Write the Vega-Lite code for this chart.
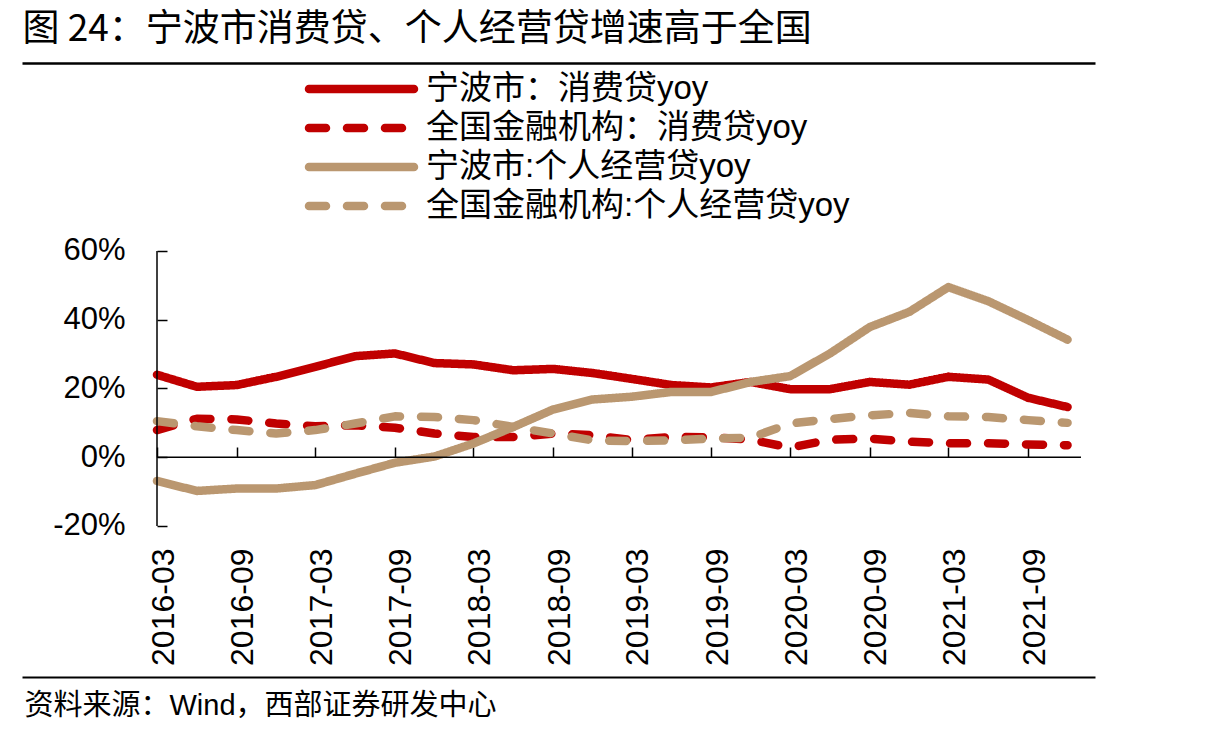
{
  "$schema": "https://vega.github.io/schema/vega-lite/v6.json",
  "width": 1073,
  "height": 614,
  "autosize": {"type": "none"},
  "padding": {"left": 22, "top": 63, "right": 120, "bottom": 59},
  "background": "white",
  "config": {"view": {"stroke": null}, "axis": {"grid": false}},
  "datasets": {
    "loans": [
      {"date": "2016-03", "series": "宁波市：消费贷yoy", "v": 24.0},
      {"date": "2016-06", "series": "宁波市：消费贷yoy", "v": 20.5},
      {"date": "2016-09", "series": "宁波市：消费贷yoy", "v": 21.0},
      {"date": "2016-12", "series": "宁波市：消费贷yoy", "v": 23.4},
      {"date": "2017-03", "series": "宁波市：消费贷yoy", "v": 26.3},
      {"date": "2017-06", "series": "宁波市：消费贷yoy", "v": 29.4},
      {"date": "2017-09", "series": "宁波市：消费贷yoy", "v": 30.2},
      {"date": "2017-12", "series": "宁波市：消费贷yoy", "v": 27.4},
      {"date": "2018-03", "series": "宁波市：消费贷yoy", "v": 27.0},
      {"date": "2018-06", "series": "宁波市：消费贷yoy", "v": 25.3},
      {"date": "2018-09", "series": "宁波市：消费贷yoy", "v": 25.7},
      {"date": "2018-12", "series": "宁波市：消费贷yoy", "v": 24.5},
      {"date": "2019-03", "series": "宁波市：消费贷yoy", "v": 22.8},
      {"date": "2019-06", "series": "宁波市：消费贷yoy", "v": 21.0},
      {"date": "2019-09", "series": "宁波市：消费贷yoy", "v": 20.3},
      {"date": "2019-12", "series": "宁波市：消费贷yoy", "v": 21.9},
      {"date": "2020-03", "series": "宁波市：消费贷yoy", "v": 19.8},
      {"date": "2020-06", "series": "宁波市：消费贷yoy", "v": 19.8},
      {"date": "2020-09", "series": "宁波市：消费贷yoy", "v": 21.9},
      {"date": "2020-12", "series": "宁波市：消费贷yoy", "v": 21.1},
      {"date": "2021-03", "series": "宁波市：消费贷yoy", "v": 23.4},
      {"date": "2021-06", "series": "宁波市：消费贷yoy", "v": 22.6},
      {"date": "2021-09", "series": "宁波市：消费贷yoy", "v": 17.3},
      {"date": "2021-12", "series": "宁波市：消费贷yoy", "v": 14.6},
      {"date": "2016-03", "series": "全国金融机构：消费贷yoy", "v": 7.9},
      {"date": "2016-06", "series": "全国金融机构：消费贷yoy", "v": 11.2},
      {"date": "2016-09", "series": "全国金融机构：消费贷yoy", "v": 11.0},
      {"date": "2016-12", "series": "全国金融机构：消费贷yoy", "v": 9.8},
      {"date": "2017-03", "series": "全国金融机构：消费贷yoy", "v": 9.0},
      {"date": "2017-06", "series": "全国金融机构：消费贷yoy", "v": 9.3},
      {"date": "2017-09", "series": "全国金融机构：消费贷yoy", "v": 8.6},
      {"date": "2017-12", "series": "全国金融机构：消费贷yoy", "v": 6.9},
      {"date": "2018-03", "series": "全国金融机构：消费贷yoy", "v": 5.9},
      {"date": "2018-06", "series": "全国金融机构：消费贷yoy", "v": 5.9},
      {"date": "2018-09", "series": "全国金融机构：消费贷yoy", "v": 6.9},
      {"date": "2018-12", "series": "全国金融机构：消费贷yoy", "v": 6.4},
      {"date": "2019-03", "series": "全国金融机构：消费贷yoy", "v": 5.0},
      {"date": "2019-06", "series": "全国金融机构：消费贷yoy", "v": 5.9},
      {"date": "2019-09", "series": "全国金融机构：消费贷yoy", "v": 5.8},
      {"date": "2019-12", "series": "全国金融机构：消费贷yoy", "v": 5.1},
      {"date": "2020-03", "series": "全国金融机构：消费贷yoy", "v": 2.8},
      {"date": "2020-06", "series": "全国金融机构：消费贷yoy", "v": 5.1},
      {"date": "2020-09", "series": "全国金融机构：消费贷yoy", "v": 5.4},
      {"date": "2020-12", "series": "全国金融机构：消费贷yoy", "v": 4.5},
      {"date": "2021-03", "series": "全国金融机构：消费贷yoy", "v": 4.1},
      {"date": "2021-06", "series": "全国金融机构：消费贷yoy", "v": 4.1},
      {"date": "2021-09", "series": "全国金融机构：消费贷yoy", "v": 3.7},
      {"date": "2021-12", "series": "全国金融机构：消费贷yoy", "v": 3.5},
      {"date": "2016-03", "series": "宁波市:个人经营贷yoy", "v": -6.9},
      {"date": "2016-06", "series": "宁波市:个人经营贷yoy", "v": -9.8},
      {"date": "2016-09", "series": "宁波市:个人经营贷yoy", "v": -9.1},
      {"date": "2016-12", "series": "宁波市:个人经营贷yoy", "v": -9.1},
      {"date": "2017-03", "series": "宁波市:个人经营贷yoy", "v": -8.1},
      {"date": "2017-06", "series": "宁波市:个人经营贷yoy", "v": -4.8},
      {"date": "2017-09", "series": "宁波市:个人经营贷yoy", "v": -1.6},
      {"date": "2017-12", "series": "宁波市:个人经营贷yoy", "v": 0.2},
      {"date": "2018-03", "series": "宁波市:个人经营贷yoy", "v": 4.0},
      {"date": "2018-06", "series": "宁波市:个人经营贷yoy", "v": 8.8},
      {"date": "2018-09", "series": "宁波市:个人经营贷yoy", "v": 13.9},
      {"date": "2018-12", "series": "宁波市:个人经营贷yoy", "v": 16.8},
      {"date": "2019-03", "series": "宁波市:个人经营贷yoy", "v": 17.6},
      {"date": "2019-06", "series": "宁波市:个人经营贷yoy", "v": 19.0},
      {"date": "2019-09", "series": "宁波市:个人经营贷yoy", "v": 19.0},
      {"date": "2019-12", "series": "宁波市:个人经营贷yoy", "v": 21.9},
      {"date": "2020-03", "series": "宁波市:个人经营贷yoy", "v": 23.6},
      {"date": "2020-06", "series": "宁波市:个人经营贷yoy", "v": 30.2},
      {"date": "2020-09", "series": "宁波市:个人经营贷yoy", "v": 37.9},
      {"date": "2020-12", "series": "宁波市:个人经营贷yoy", "v": 42.3},
      {"date": "2021-03", "series": "宁波市:个人经营贷yoy", "v": 49.5},
      {"date": "2021-06", "series": "宁波市:个人经营贷yoy", "v": 45.4},
      {"date": "2021-09", "series": "宁波市:个人经营贷yoy", "v": 39.9},
      {"date": "2021-12", "series": "宁波市:个人经营贷yoy", "v": 34.2},
      {"date": "2016-03", "series": "全国金融机构:个人经营贷yoy", "v": 10.5},
      {"date": "2016-06", "series": "全国金融机构:个人经营贷yoy", "v": 9.0},
      {"date": "2016-09", "series": "全国金融机构:个人经营贷yoy", "v": 7.9},
      {"date": "2016-12", "series": "全国金融机构:个人经营贷yoy", "v": 6.9},
      {"date": "2017-03", "series": "全国金融机构:个人经营贷yoy", "v": 7.9},
      {"date": "2017-06", "series": "全国金融机构:个人经营贷yoy", "v": 9.8},
      {"date": "2017-09", "series": "全国金融机构:个人经营贷yoy", "v": 11.9},
      {"date": "2017-12", "series": "全国金融机构:个人经营贷yoy", "v": 11.7},
      {"date": "2018-03", "series": "全国金融机构:个人经营贷yoy", "v": 10.8},
      {"date": "2018-06", "series": "全国金融机构:个人经营贷yoy", "v": 8.8},
      {"date": "2018-09", "series": "全国金融机构:个人经营贷yoy", "v": 6.9},
      {"date": "2018-12", "series": "全国金融机构:个人经营贷yoy", "v": 4.9},
      {"date": "2019-03", "series": "全国金融机构:个人经营贷yoy", "v": 4.7},
      {"date": "2019-06", "series": "全国金融机构:个人经营贷yoy", "v": 4.9},
      {"date": "2019-09", "series": "全国金融机构:个人经营贷yoy", "v": 5.4},
      {"date": "2019-12", "series": "全国金融机构:个人经营贷yoy", "v": 5.7},
      {"date": "2020-03", "series": "全国金融机构:个人经营贷yoy", "v": 9.8},
      {"date": "2020-06", "series": "全国金融机构:个人经营贷yoy", "v": 11.1},
      {"date": "2020-09", "series": "全国金融机构:个人经营贷yoy", "v": 12.2},
      {"date": "2020-12", "series": "全国金融机构:个人经营贷yoy", "v": 12.9},
      {"date": "2021-03", "series": "全国金融机构:个人经营贷yoy", "v": 11.9},
      {"date": "2021-06", "series": "全国金融机构:个人经营贷yoy", "v": 11.7},
      {"date": "2021-09", "series": "全国金融机构:个人经营贷yoy", "v": 10.8},
      {"date": "2021-12", "series": "全国金融机构:个人经营贷yoy", "v": 10.0}
    ]
  },
  "layer": [
    {
      "data": {"name": "loans"},
      "mark": {"type": "line", "strokeWidth": 8.5, "strokeCap": "round", "strokeJoin": "round"},
      "encoding": {
        "x": {
          "field": "date",
          "type": "temporal",
          "scale": {
            "type": "utc",
            "domain": [
              {"year": 2015, "month": 4, "date": 24, "hours": 12, "utc": true},
              {"year": 2022, "month": 2, "date": 2, "hours": 8, "utc": true}
            ]
          },
          "axis": {
            "orient": "top",
            "offset": -394,
            "values": [
              {"year": 2016, "month": 3, "date": 1, "utc": true},
              {"year": 2016, "month": 9, "date": 1, "utc": true},
              {"year": 2017, "month": 3, "date": 1, "utc": true},
              {"year": 2017, "month": 9, "date": 1, "utc": true},
              {"year": 2018, "month": 3, "date": 1, "utc": true},
              {"year": 2018, "month": 9, "date": 1, "utc": true},
              {"year": 2019, "month": 3, "date": 1, "utc": true},
              {"year": 2019, "month": 9, "date": 1, "utc": true},
              {"year": 2020, "month": 3, "date": 1, "utc": true},
              {"year": 2020, "month": 9, "date": 1, "utc": true},
              {"year": 2021, "month": 3, "date": 1, "utc": true},
              {"year": 2021, "month": 9, "date": 1, "utc": true}
            ],
            "domain": false,
            "ticks": true,
            "tickSize": 10,
            "tickWidth": 1.5,
            "tickColor": "#000000",
            "labelExpr": "utcFormat(datum.value, '%Y-%m')",
            "labelAngle": 270,
            "labelAlign": "right",
            "labelBaseline": "middle",
            "labelPadding": -101,
            "labelOffset": 6,
            "labelFont": "Liberation Sans",
            "labelFontSize": 32,
            "labelColor": "#000000",
            "labelFlush": false,
            "labelOverlap": false,
            "labelBound": false,
            "title": null,
            "grid": false
          }
        },
        "y": {
          "field": "v",
          "type": "quantitative",
          "scale": {"domain": [-63.93, 114.69], "nice": false, "zero": false},
          "axis": {
            "orient": "left",
            "offset": -135,
            "values": [-20, 0, 20, 40, 60],
            "domain": false,
            "ticks": true,
            "tickSize": -10,
            "tickWidth": 1.5,
            "tickColor": "#000000",
            "labelExpr": "datum.value + '%'",
            "labelFont": "Liberation Sans",
            "labelFontSize": 31,
            "labelColor": "#000000",
            "labelPadding": 42,
            "labelAlign": "right",
            "labelBaseline": "middle",
            "labelFlush": false,
            "labelOverlap": false,
            "labelBound": false,
            "title": null,
            "grid": false
          }
        },
        "color": {
          "field": "series",
          "type": "nominal",
          "scale": {
            "domain": ["宁波市：消费贷yoy", "全国金融机构：消费贷yoy", "宁波市:个人经营贷yoy", "全国金融机构:个人经营贷yoy"],
            "range": ["#C00000", "#C00000", "#BA9770", "#BA9770"]
          },
          "legend": {
            "orient": "none",
            "legendX": 320,
            "legendY": 6.5,
            "title": null,
            "padding": 0,
            "symbolType": "M-3.5,0H3.5",
            "symbolSize": 900,
            "symbolStrokeWidth": 8.5,
            "labelFont": "Liberation Sans, Noto Sans CJK SC",
            "labelFontSize": 33,
            "labelColor": "#000000",
            "labelLimit": 0,
            "labelOffset": 45,
            "rowPadding": 2,
            "encode": {"symbols": {"update": {"strokeCap": {"value": "round"}}}}
          }
        },
        "strokeDash": {
          "field": "series",
          "type": "nominal",
          "scale": {
            "domain": ["宁波市：消费贷yoy", "全国金融机构：消费贷yoy", "宁波市:个人经营贷yoy", "全国金融机构:个人经营贷yoy"],
            "range": [[1, 0], [17, 21], [1, 0], [17, 21]]
          },
          "legend": {
            "orient": "none",
            "legendX": 320,
            "legendY": 6.5,
            "title": null,
            "padding": 0,
            "symbolType": "M-3.5,0H3.5",
            "symbolSize": 900,
            "symbolStrokeWidth": 8.5,
            "labelFont": "Liberation Sans, Noto Sans CJK SC",
            "labelFontSize": 33,
            "labelColor": "#000000",
            "labelLimit": 0,
            "labelOffset": 45,
            "rowPadding": 2,
            "encode": {"symbols": {"update": {"strokeCap": {"value": "round"}}}}
          }
        }
      }
    },
    {
      "data": {"values": [{}]},
      "mark": {"type": "rule", "strokeWidth": 1.5, "color": "#000000"},
      "encoding": {
        "x": {
          "datum": {"year": 2016, "month": 3, "date": 1, "utc": true},
          "type": "temporal",
          "axis": {
            "orient": "top",
            "offset": 0,
            "domain": true,
            "domainWidth": 2.5,
            "domainColor": "#000000",
            "ticks": false,
            "labels": false,
            "grid": false,
            "title": "图 24：宁波市消费贷、个人经营贷增速高于全国",
            "titleFont": "Noto Sans CJK SC",
            "titleFontSize": 37,
            "titleFontWeight": "normal",
            "titleColor": "#000000",
            "titleAnchor": "start",
            "titleAlign": "left",
            "titleBaseline": "alphabetic",
            "titleX": 0,
            "titleY": -23
          }
        },
        "x2": {"datum": {"year": 2022, "month": 1, "date": 1, "utc": true}},
        "y": {"datum": 0, "type": "quantitative", "axis": null}
      }
    },
    {
      "data": {"values": [{}]},
      "mark": {"type": "rule", "strokeWidth": 1.5, "color": "#000000"},
      "encoding": {
        "x": {
          "datum": {"year": 2016, "month": 3, "date": 1, "utc": true},
          "type": "temporal",
          "axis": {
            "orient": "bottom",
            "offset": 0,
            "domain": true,
            "domainWidth": 2,
            "domainColor": "#000000",
            "ticks": false,
            "labels": false,
            "grid": false,
            "title": "资料来源：Wind，西部证券研发中心",
            "titleFont": "Liberation Sans, Noto Sans CJK SC",
            "titleFontSize": 29,
            "titleFontWeight": "normal",
            "titleColor": "#000000",
            "titleAnchor": "start",
            "titleAlign": "left",
            "titleBaseline": "alphabetic",
            "titleX": 2,
            "titleY": 37
          }
        },
        "y": {"datum": -20, "type": "quantitative", "axis": null},
        "y2": {"datum": 60}
      }
    }
  ],
  "resolve": {"axis": {"x": "independent", "y": "independent"}}
}
